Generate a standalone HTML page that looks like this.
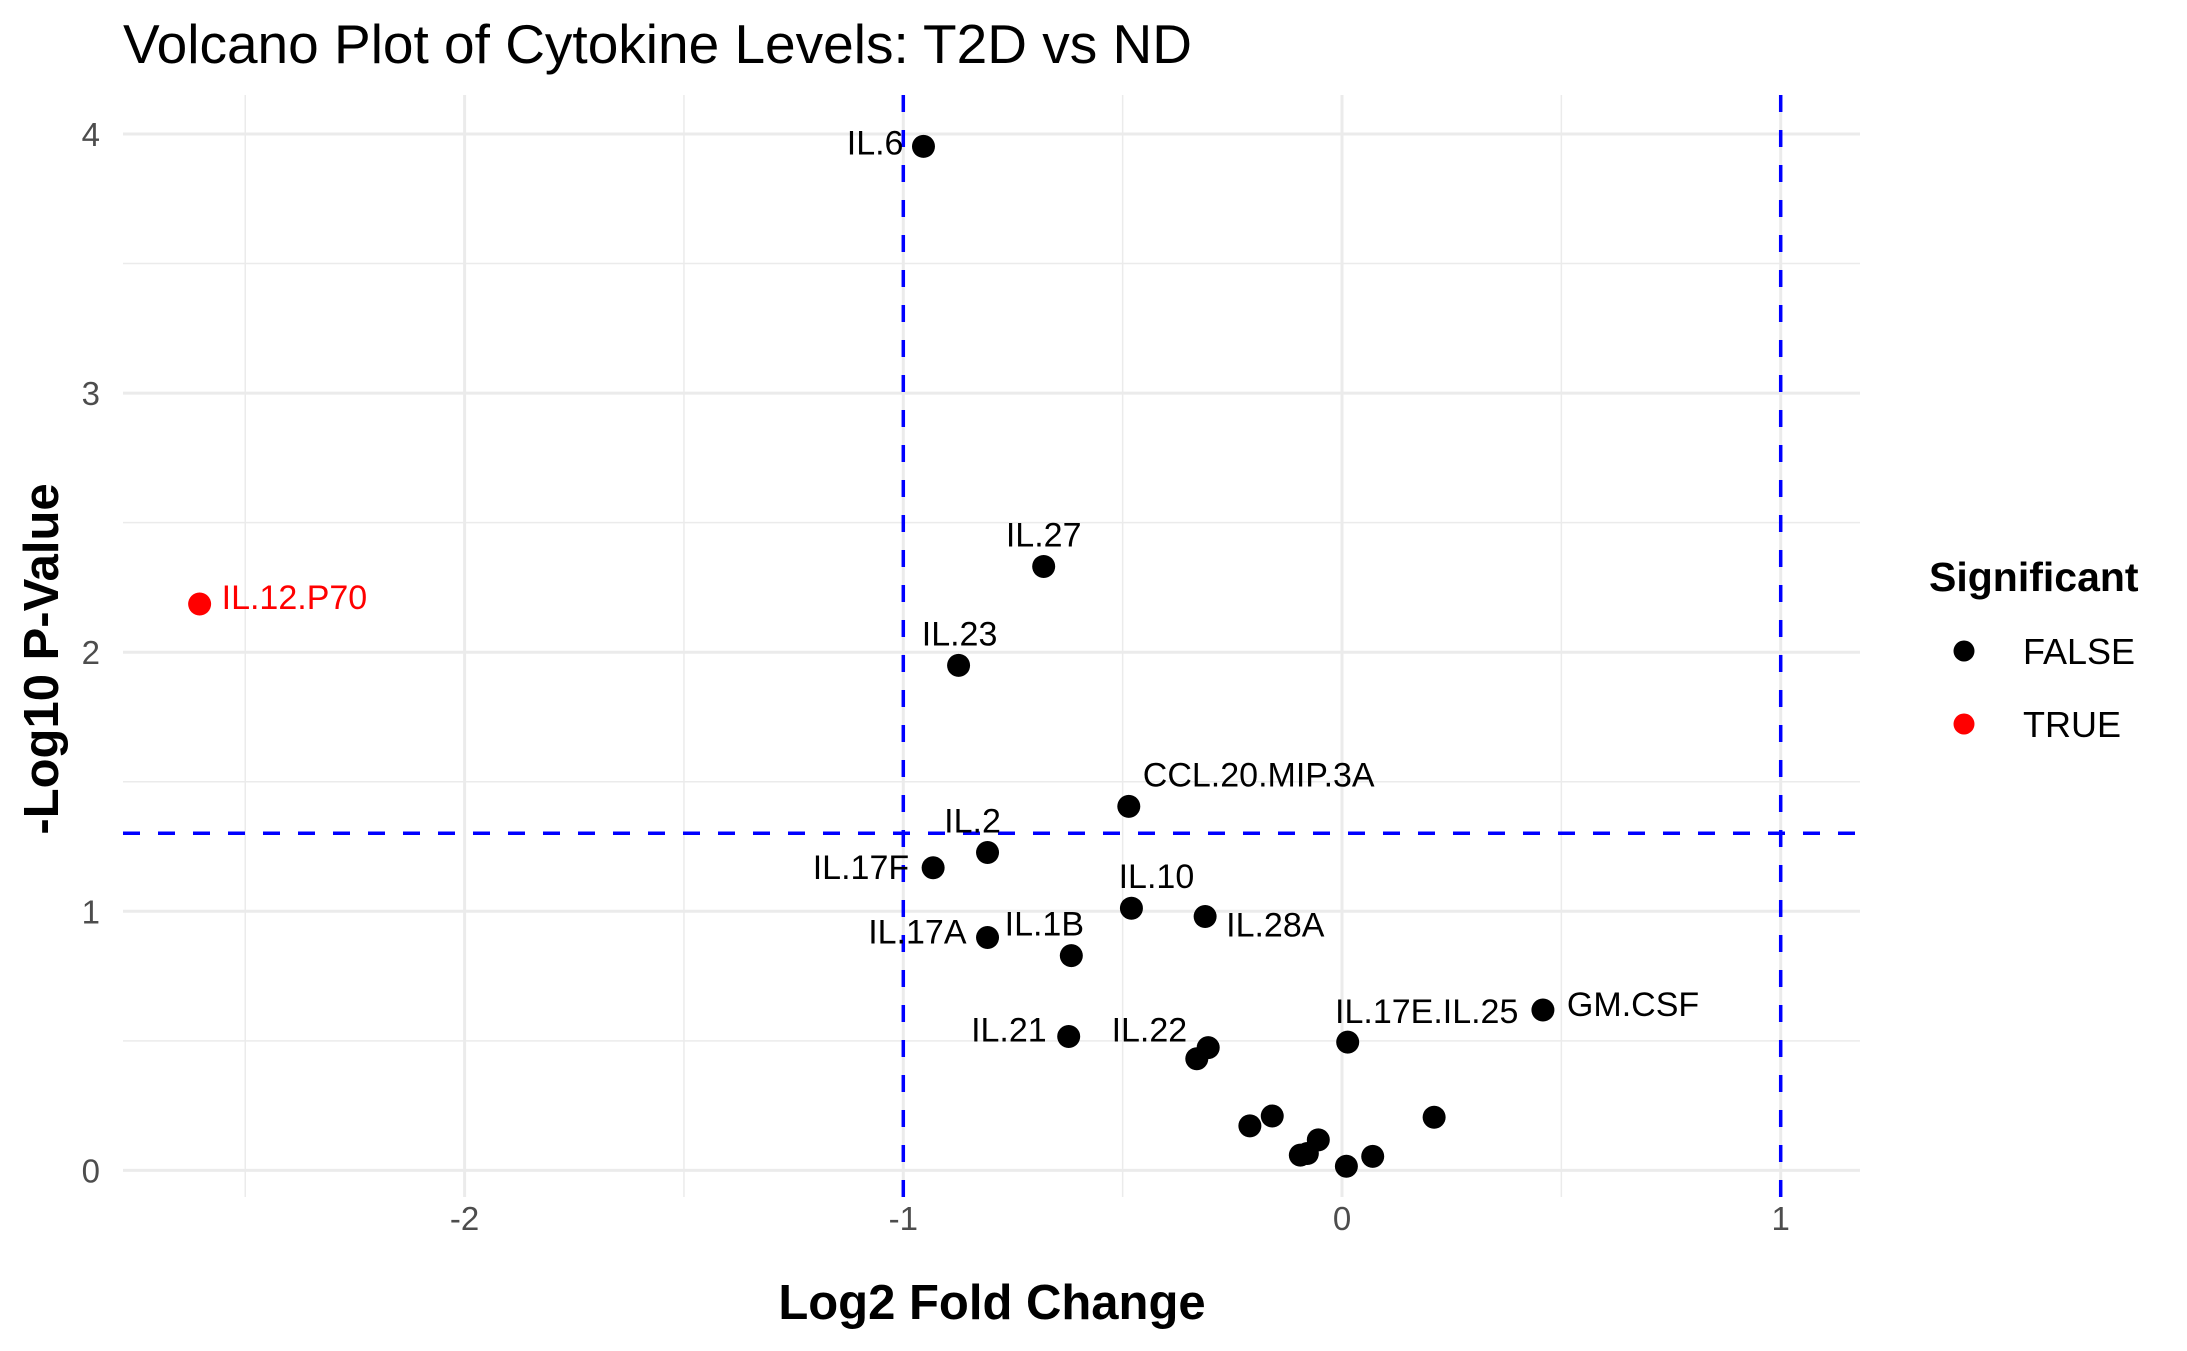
<!DOCTYPE html>
<html><head><meta charset="utf-8"><style>
html,body{margin:0;padding:0;background:#fff;}
svg{display:block;font-family:"Liberation Sans",Arial,sans-serif;}
</style></head><body>
<svg id="chart" width="2187" height="1351" viewBox="0 0 2187 1351">
<rect width="2187" height="1351" fill="#fff"/>
<text x="123" y="63" font-size="55" fill="#000">Volcano Plot of Cytokine Levels: T2D vs ND</text>
<g id="grid"></g>
<g id="thresholds"></g>
<g id="points"></g>
<g id="labels"></g>
<g id="axes"></g>
<text x="992" y="1319" font-size="49" font-weight="bold" text-anchor="middle" fill="#000">Log2 Fold Change</text>
<text transform="translate(58,659) rotate(-90)" font-size="49" font-weight="bold" text-anchor="middle" fill="#000">-Log10 P-Value</text>
<g>
<text x="1929" y="591" font-size="41" font-weight="bold" fill="#000">Significant</text>
<g>
<circle cx="1964" cy="651" r="10.5" fill="#000"/>
<text x="2023" y="664" font-size="36" fill="#000">FALSE</text>
</g>
<g>
<circle cx="1964" cy="724" r="10.5" fill="#f00"/>
<text x="2023" y="737" font-size="36" fill="#000">TRUE</text>
</g>
</g>
</svg>
<script>
const names = ["IL.12.P70","IL.6","IL.27","IL.23","CCL.20.MIP.3A","IL.2","IL.17F","IL.10","IL.28A","IL.17A","IL.1B","GM.CSF","IL.17E.IL.25","IL.21","IL.22","","","","","","","","",""];
const log2fc = [-2.604,-0.954,-0.680,-0.874,-0.486,-0.808,-0.932,-0.480,-0.312,-0.808,-0.617,0.458,0.013,-0.623,-0.305,-0.331,-0.159,-0.210,0.210,-0.054,-0.079,-0.095,0.070,0.010];
const negLog10P = [2.186,3.952,2.331,1.949,1.405,1.227,1.168,1.012,0.980,0.899,0.829,0.619,0.495,0.517,0.474,0.431,0.210,0.172,0.205,0.118,0.065,0.059,0.054,0.016];
const significant = [true,false,false,false,false,false,false,false,false,false,false,false,false,false,false,false,false,false,false,false,false,false,false,false];
const xTicks = [-2,-1,0,1];
const xMinor = [-2.5,-1.5,-0.5,0.5];
const yTicks = [0,1,2,3,4];
const yMinor = [0.5,1.5,2.5,3.5];
const fcThresholds = [-1,1];
const pThreshold = 1.30103;

// label placement offsets (pixels) – layout only
const labelLayout = {
 "IL.12.P70":["start",22,-7],"IL.6":["end",-20,-4],"IL.27":["middle",0,-32],"IL.23":["middle",1,-32],
 "CCL.20.MIP.3A":["start",14,-32],"IL.2":["middle",-15,-32],"IL.17F":["end",-24,-1],"IL.10":["middle",25,-32],
 "IL.28A":["start",21,8],"IL.17A":["end",-21,-6],"IL.1B":["middle",-27,-32],"GM.CSF":["start",24,-6],
 "IL.17E.IL.25":["middle",79,-31],"IL.21":["end",-22,-7],"IL.22":["end",-21,-18]
};
const PL=123, PR=1860, PT=95, PB=1197;
const X = v => 1342 + v*438.7;
const Y = v => 1170.4 - v*259.1;
const NS="http://www.w3.org/2000/svg";
function mk(tag, attrs, parent){const e=document.createElementNS(NS,tag);for(const k in attrs)e.setAttribute(k,attrs[k]);parent.appendChild(e);return e;}
const grid=document.getElementById('grid');
yMinor.forEach(v=>{const l=mk('line',{x1:PL,x2:PR,y1:Y(v),y2:Y(v),stroke:'#ebebeb','stroke-width':1.5},grid);

});
xMinor.forEach(v=>{const l=mk('line',{x1:X(v),x2:X(v),y1:PT,y2:PB,stroke:'#ebebeb','stroke-width':1.5},grid);

});
yTicks.forEach(v=>{const l=mk('line',{x1:PL,x2:PR,y1:Y(v),y2:Y(v),stroke:'#ebebeb','stroke-width':3},grid);

});
xTicks.forEach(v=>{const l=mk('line',{x1:X(v),x2:X(v),y1:PT,y2:PB,stroke:'#ebebeb','stroke-width':3},grid);

});
const th=document.getElementById('thresholds');
fcThresholds.forEach(v=>{const l=mk('line',{x1:X(v),x2:X(v),y1:PT,y2:PB,stroke:'#00f','stroke-width':3.5,'stroke-dasharray':'17 18'},th);

});
{const l=mk('line',{x1:PL,x2:PR,y1:Y(pThreshold),y2:Y(pThreshold),stroke:'#00f','stroke-width':3.5,'stroke-dasharray':'17 18'},th);

}
const ax=document.getElementById('axes');
xTicks.forEach(v=>{const t=mk('text',{x:X(v),y:1230,'font-size':33,fill:'#4d4d4d','text-anchor':'middle'},ax);t.textContent=String(v);

});
yTicks.forEach(v=>{const t=mk('text',{x:100,y:Y(v)+12,'font-size':33,fill:'#4d4d4d','text-anchor':'end'},ax);t.textContent=v;

});
const pg=document.getElementById('points'), lg=document.getElementById('labels');
log2fc.forEach((v,i)=>{
 const cx=X(v), cy=Y(negLog10P[i]);
 const c=mk('circle',{cx:cx,cy:cy,r:11.5,fill:significant[i]?'#f00':'#000'},pg);
 
 
 if(names[i]){
  const L=labelLayout[names[i]]||['start',14,0];
  const t=mk('text',{x:cx+L[1],y:cy+L[2]+12,'font-size':34,fill:significant[i]?'#f00':'#000','text-anchor':L[0]},lg);
  t.textContent=names[i];
  
  
 }
});
</script>
</body></html>
